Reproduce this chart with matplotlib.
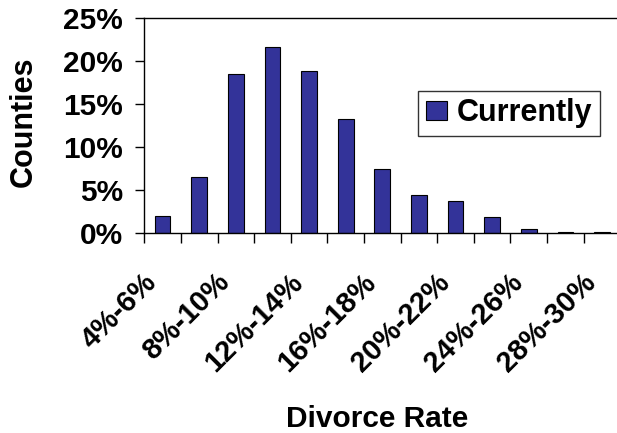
import numpy as np
import matplotlib
matplotlib.use("Agg")
import matplotlib.pyplot as plt
from matplotlib.ticker import PercentFormatter

plt.rcParams["font.family"] = ["Liberation Sans", "DejaVu Sans"]
plt.rcParams["font.weight"] = "bold"

# divorce-rate bins (every 2 points) and share of counties in each
bins = ["4%-6%", "6%-8%", "8%-10%", "10%-12%", "12%-14%", "14%-16%", "16%-18%",
        "18%-20%", "20%-22%", "22%-24%", "24%-26%", "26%-28%", "28%-30%"]
currently = [2.0, 6.5, 18.5, 21.7, 18.9, 13.3, 7.5, 4.4, 3.7, 1.9, 0.55, 0.1, 0.1]
y_ticks = [0, 5, 10, 15, 20, 25]

W, H = 617, 433
fig = plt.figure(figsize=(W / 100, H / 100), dpi=100)
ax = fig.add_axes([144.3 / W, 1 - 233.3 / H, 476 / W, 215 / H])

x = np.arange(len(bins))
ax.bar(x, currently, width=0.43, color="#333399", edgecolor="black",
       linewidth=0.8, label="Currently", zorder=2)

ax.set_xlim(-0.5, len(bins) - 0.5)
ax.set_ylim(0, 25)
ax.set_yticks(y_ticks)
ax.yaxis.set_major_formatter(PercentFormatter(decimals=0))
ax.tick_params(axis="y", direction="out", length=6.5, width=1, pad=9,
               labelsize=21.5)

# ticks sit on the category boundaries, labels only on every other bin
ax.set_xticks(np.arange(-0.5, len(bins)), minor=True)
ax.set_xticks([])
ax.tick_params(axis="x", which="minor", direction="out", length=7, width=1)
for i in range(0, len(bins), 2):
    ax.annotate(bins[i], xy=(x[i], 0), xycoords=("data", "axes fraction"),
                xytext=(-14.5, -25.0), textcoords="offset points",
                rotation=45, rotation_mode="anchor", ha="right", va="top",
                fontsize=21, fontweight="bold")

for side in ["left", "bottom", "top"]:
    ax.spines[side].set_linewidth(1)
ax.spines["right"].set_visible(False)

ax.set_xlabel("Divorce Rate", fontsize=21.5, fontweight="bold")
ax.xaxis.set_label_coords(0.49, -0.80)
ax.set_ylabel("Counties", fontsize=22, fontweight="bold")
ax.yaxis.set_label_coords(-0.222, 0.52)

leg = ax.legend(loc="upper left", bbox_to_anchor=(418.3 / W, 1 - 90.7 / H),
                bbox_transform=fig.transFigure, fontsize=22, frameon=True,
                fancybox=False, borderaxespad=0, borderpad=0.25,
                handlelength=0.68, handleheight=0.55, handletextpad=0.33)
leg.get_frame().set_edgecolor("black")
leg.get_frame().set_linewidth(1)

fig.savefig("out.png", dpi=100)
